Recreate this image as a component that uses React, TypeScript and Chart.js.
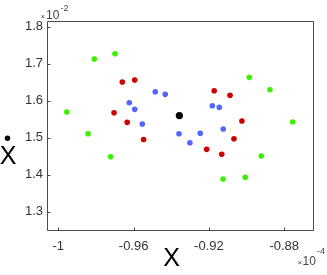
import React, { useEffect, useRef } from "react";
import { Chart, registerables } from "chart.js";

Chart.register(...registerables);

// values in axis units: x ×10^-4, y ×10^-2
const greenX = [-0.9809, -0.9699, -0.9955, -0.9842, -0.9722, -0.8986, -0.8876, -0.8755, -0.8922, -0.9125, -0.9007];
const greenY = [1.7127, 1.727, 1.5695, 1.5108, 1.4486, 1.6632, 1.6297, 1.5424, 1.4505, 1.3884, 1.393];
const redX = [-0.966, -0.9594, -0.9704, -0.9634, -0.9547, -0.9172, -0.9088, -0.9025, -0.9067, -0.9212, -0.9132];
const redY = [1.6505, 1.656, 1.5676, 1.5416, 1.4951, 1.627, 1.6146, 1.5451, 1.4973, 1.4686, 1.4551];
const blueX = [-0.9485, -0.9432, -0.9623, -0.9594, -0.9554, -0.9359, -0.9182, -0.9145, -0.9124, -0.9246, -0.9301];
const blueY = [1.6243, 1.6173, 1.5946, 1.5768, 1.537, 1.5108, 1.5865, 1.5822, 1.5235, 1.5119, 1.4865];
const centerX = [-0.9357];
const centerY = [1.56];

const xTicks = [-1, -0.96, -0.92, -0.88];
const xTickLabels = ["-1", "-0.96", "-0.92", "-0.88"];
const yTicks = [1.3, 1.4, 1.5, 1.6, 1.7, 1.8];
const yTickLabels = ["1.3", "1.4", "1.5", "1.6", "1.7", "1.8"];
const xRange = [-1.006, -0.8642];
const yRange = [1.248, 1.8155];
const xAxisTitle = "X";
const yAxisTitle = "X";
const xExponent = "-4";
const yExponent = "-2";

const toPoints = (xs: number[], ys: number[]) => xs.map((x, i) => ({ x, y: ys[i] }));

const FONT = "'Liberation Sans', Arial, Helvetica, sans-serif";

const decorPlugin = {
  id: "decor",
  afterDraw(chart: any) {
    const { ctx, chartArea: a, scales } = chart;
    const xs = scales.x;
    const ys = scales.y;
    ctx.save();
    // box
    ctx.strokeStyle = "#4a4a4a";
    ctx.lineWidth = 1;
    const L = Math.round(a.left) + 0.5;
    const T = Math.round(a.top) + 0.5;
    const R = Math.round(a.right) - 0.5;
    const B = Math.round(a.bottom) - 0.5;
    ctx.beginPath();
    ctx.rect(L, T, R - L, B - T);
    ctx.stroke();
    // inward ticks
    ctx.beginPath();
    xTicks.forEach((v) => {
      const px = Math.round(xs.getPixelForValue(v)) + 0.5;
      ctx.moveTo(px, B);
      ctx.lineTo(px, B - 3);
    });
    yTicks.forEach((v) => {
      const py = Math.round(ys.getPixelForValue(v)) + 0.5;
      ctx.moveTo(L, py);
      ctx.lineTo(L + 3, py);
    });
    ctx.stroke();

    // exponents
    ctx.fillStyle = "#444";
    ctx.textBaseline = "alphabetic";
    ctx.textAlign = "left";
    ctx.font = `8px ${FONT}`;
    ctx.fillText("×", 40.5, 18.5);
    ctx.font = `12px ${FONT}`;
    ctx.fillText("10", 46, 18.5);
    ctx.font = `9px ${FONT}`;
    ctx.fillText(yExponent, 60.5, 10.5);

    ctx.font = `8px ${FONT}`;
    ctx.fillText("×", 297.5, 264.5);
    ctx.font = `12px ${FONT}`;
    ctx.fillText("10", 302.5, 264.5);
    ctx.font = `9px ${FONT}`;
    ctx.fillText(xExponent, 317, 253.5);

    // axis titles
    ctx.fillStyle = "#000";
    ctx.font = `25px ${FONT}`;
    ctx.textAlign = "center";
    ctx.fillText(xAxisTitle, 171.5, 266);
    ctx.fillText(yAxisTitle, 8, 164);
    ctx.beginPath();
    ctx.arc(7.5, 138.3, 2.7, 0, Math.PI * 2);
    ctx.fill();
    ctx.restore();
  },
};

export default function App() {
  const ref = useRef<HTMLCanvasElement>(null);
  useEffect(() => {
    if (!ref.current) return;
    const chart = new Chart(ref.current, {
      type: "scatter",
      data: {
        datasets: [
          { data: toPoints(greenX, greenY), backgroundColor: "#3ef000", borderWidth: 0, pointRadius: 2.8 },
          { data: toPoints(redX, redY), backgroundColor: "#cc0000", borderWidth: 0, pointRadius: 2.8 },
          { data: toPoints(blueX, blueY), backgroundColor: "#5066ff", borderWidth: 0, pointRadius: 2.8 },
          { data: toPoints(centerX, centerY), backgroundColor: "#000000", borderWidth: 0, pointRadius: 3.6 },
        ],
      },
      options: {
        responsive: false,
        animation: false,
        events: [],
        layout: { padding: { left: 0, top: 21, right: 13, bottom: 0 } },
        plugins: { legend: { display: false }, tooltip: { enabled: false } },
        scales: {
          x: {
            type: "linear",
            min: xRange[0],
            max: xRange[1],
            border: { display: false },
            grid: { display: false, drawTicks: false },
            afterBuildTicks: (s: any) => {
              s.ticks = xTicks.map((v) => ({ value: v }));
            },
            afterFit: (s: any) => {
              s.height = 44;
            },
            ticks: {
              padding: 8,
              maxRotation: 0,
              autoSkip: false,
              color: "#333",
              font: { family: FONT, size: 13 },
              callback: (v: any) => {
                const i = xTicks.findIndex((t) => Math.abs(t - v) < 1e-9);
                return i >= 0 ? xTickLabels[i] : "";
              },
            },
          },
          y: {
            type: "linear",
            min: yRange[0],
            max: yRange[1],
            border: { display: false },
            grid: { display: false, drawTicks: false },
            afterBuildTicks: (s: any) => {
              s.ticks = yTicks.map((v) => ({ value: v }));
            },
            afterFit: (s: any) => {
              s.width = 47;
            },
            ticks: {
              padding: 4,
              autoSkip: false,
              color: "#333",
              font: { family: FONT, size: 13 },
              callback: (v: any) => {
                const i = yTicks.findIndex((t) => Math.abs(t - v) < 1e-9);
                return i >= 0 ? yTickLabels[i] : "";
              },
            },
          },
        },
      },
      plugins: [decorPlugin],
    });
    return () => chart.destroy();
  }, []);
  return (
    <div style={{ position: "fixed", left: 0, top: 0, width: 327, height: 275, background: "#fff" }}>
      <canvas ref={ref} width={327} height={275} style={{ display: "block" }} />
    </div>
  );
}
